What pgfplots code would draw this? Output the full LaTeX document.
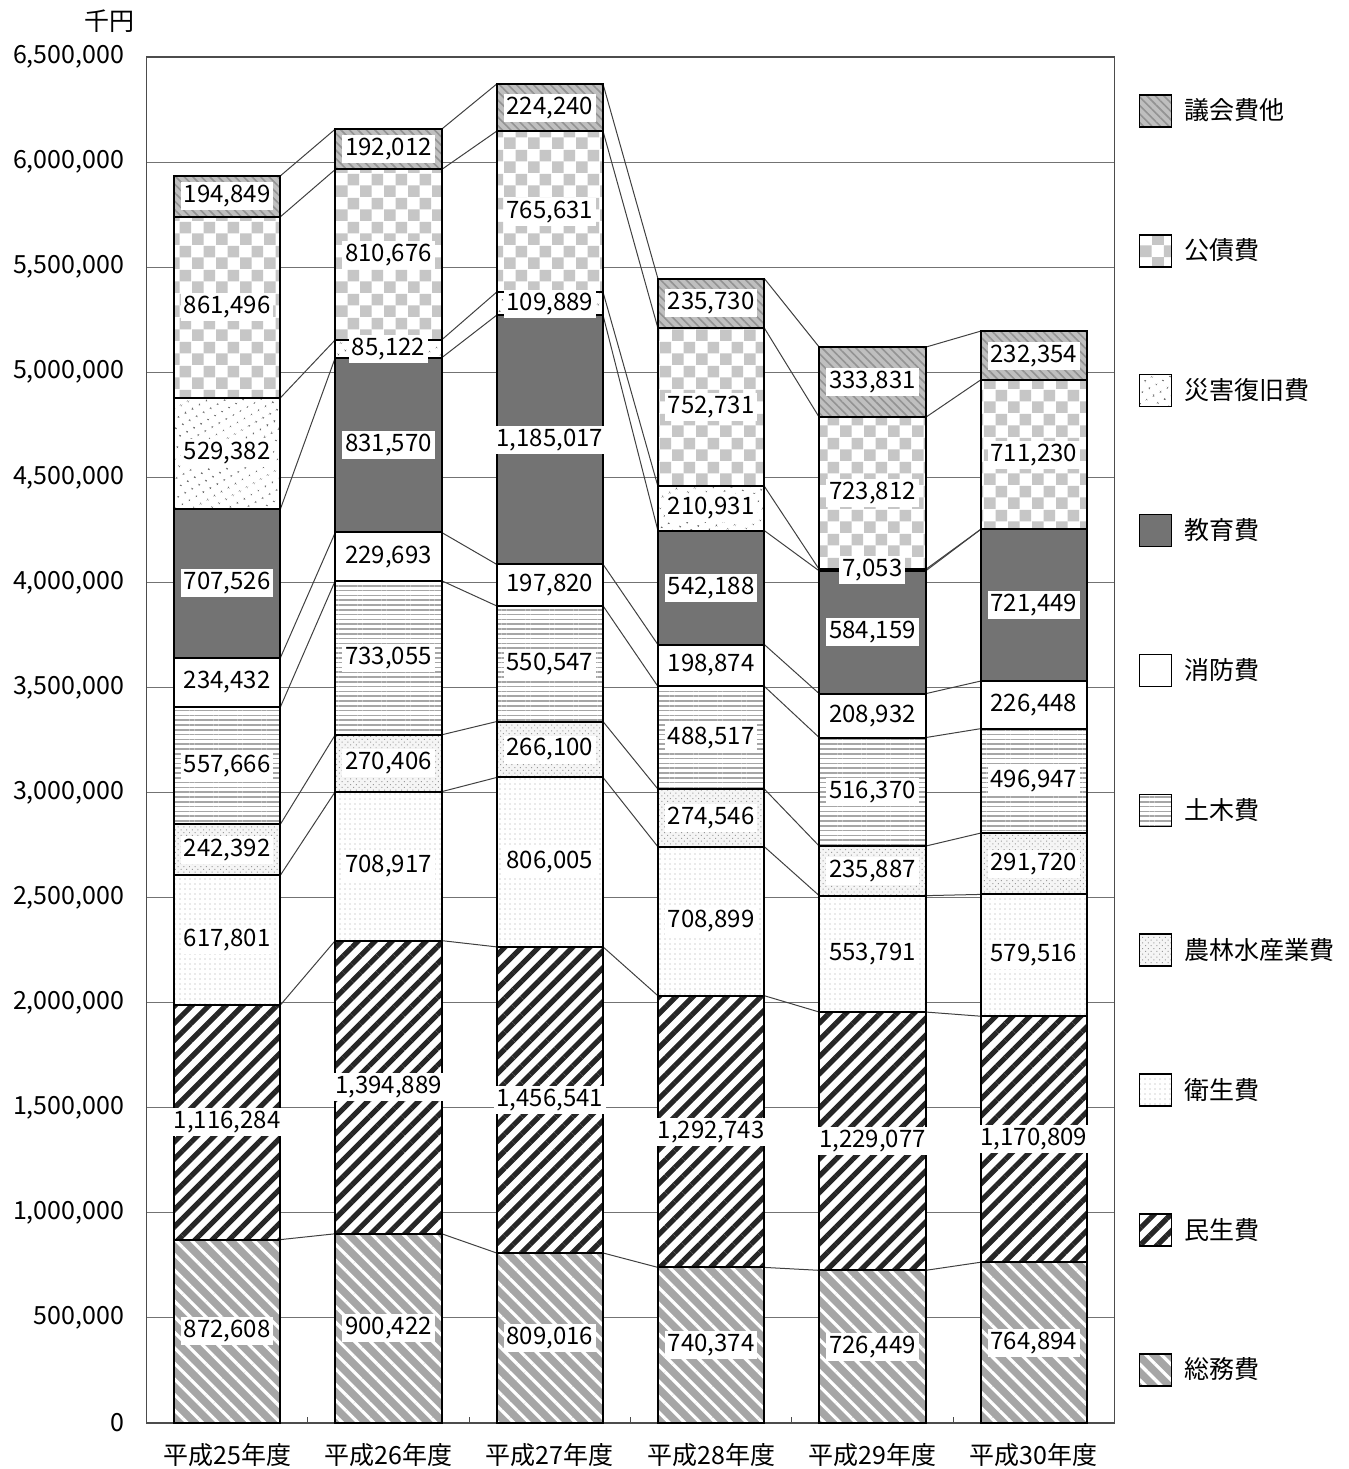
\documentclass[border=0pt]{standalone}
\usepackage{fontspec}
\setmainfont{Noto Sans CJK JP}
\usepackage{pgfplots}
\usepackage{pgfplotstable}
\pgfplotsset{compat=1.18}
\usetikzlibrary{patterns,patterns.meta}

\tikzdeclarepattern{
  name=bigcheck,
  type=uncolored,
  bounding box={(0pt,0pt) and (12pt,12pt)},
  tile size={(12pt,12pt)},
  code={
    \fill (0pt,0pt) rectangle (6pt,6pt);
    \fill (6pt,6pt) rectangle (12pt,12pt);
  }
}

% columns: a 総務費, b 民生費, c 衛生費, d 農林水産業費, e 土木費,
% f 消防費, g 教育費, h 災害復旧費, i 公債費, j 議会費他
\pgfplotstableread{
x a b c d e f g h i j
0 872608 1116284 617801 242392 557666 234432 707526 529382 861496 194849
1 900422 1394889 708917 270406 733055 229693 831570 85122 810676 192012
2 809016 1456541 806005 266100 550547 197820 1185017 109889 765631 224240
3 740374 1292743 708899 274546 488517 198874 542188 210931 752731 235730
4 726449 1229077 553791 235887 516370 208932 584159 7053 723812 333831
5 764894 1170809 579516 291720 496947 226448 721449 0 711230 232354
}\data

\tikzset{
  connector/.style={black!75, line width=0.5pt, mark=none},
  barbase/.style={draw=black, line width=1pt},
  s1/.style={barbase, fill=gray!70, postaction={pattern={Lines[angle=-45,distance=5.5pt,line width=1.6pt]}, pattern color=white}},
  s2/.style={barbase, fill=white, postaction={pattern={Lines[angle=45,distance=6pt,line width=2.6pt]}, pattern color=black!85}},
  s3/.style={barbase, fill=white, postaction={pattern={Dots[distance=2.5pt,radius=0.35pt]}, pattern color=gray!70}},
  s4/.style={barbase, fill=gray!8, postaction={pattern={Dots[distance=2pt,radius=0.35pt,angle=45]}, pattern color=gray!80}},
  s5/.style={barbase, fill=white, postaction={pattern={Lines[angle=0,distance=2.4pt,line width=0.8pt]}, pattern color=gray!70}},
  s6/.style={barbase, fill=white},
  s7/.style={barbase, fill=black!55},
  s8/.style={barbase, fill=white, postaction={pattern={Dots[distance=4pt,radius=0.5pt,angle=30]}, pattern color=black!60}},
  s9/.style={barbase, fill=white, postaction={pattern=bigcheck, pattern color=gray!45}},
  s10/.style={barbase, fill=gray!50, postaction={pattern={Lines[angle=-45,distance=3pt,line width=0.8pt]}, pattern color=gray!85}},
}

\newcommand\conn[1]{%
  \gdef\coordlist{}%
  \pgfplotsforeachungrouped \i in {0,...,5}{%
    \pgfplotstablegetelem{\i}{#1}\of\data
    \let\val\pgfplotsretval
    \pgfmathsetmacro\xl{\i-0.33}%
    \pgfmathsetmacro\xr{\i+0.33}%
    \xdef\coordlist{\coordlist (\xl,\val) (\xr,\val)}%
  }%
  \edef\doplot{\noexpand\addplot[connector] coordinates {\coordlist};}%
  \doplot
}

\begin{document}
\pgfkeys{/pgf/number format/.cd, fixed, precision=0, 1000 sep={,}, assume math mode=true}
\begin{tikzpicture}
\useasboundingbox (0,0) rectangle (672pt,734.5pt);
\begin{axis}[
  at={(71pt,23pt)}, anchor=south west,
  scale only axis, width=484pt, height=683pt,
  xmin=-0.5, xmax=5.5, ymin=0, ymax=6500000,
  stack plots=y,
  xtick={0,...,5},
  xticklabels={平成25年度,平成26年度,平成27年度,平成28年度,平成29年度,平成30年度},
  major tick length=0pt,
  tick pos=left,
  extra x ticks={0.5,1.5,2.5,3.5,4.5},
  extra x tick labels={},
  extra x tick style={major tick length=3pt, tick style={black!70, line width=0.6pt}},
  ytick distance=500000,
  scaled y ticks=false,
  ymajorgrids,
  y grid style={black!55, line width=0.5pt},
  axis line style={black!70, line width=0.6pt},
  tick label style={font=\fontsize{12.5}{14}\selectfont},
  yticklabel style={anchor=east, inner sep=0pt, xshift=-11pt},
  xticklabel style={anchor=north, inner sep=0pt, yshift=-10pt},
]
\conn{a}\conn{b}\conn{c}\conn{d}\conn{e}\conn{f}\conn{g}\conn{h}\conn{i}\conn{j}
\end{axis}
\begin{axis}[
  at={(71pt,23pt)}, anchor=south west,
  scale only axis, width=484pt, height=683pt,
  xmin=-0.5, xmax=5.5, ymin=0, ymax=6500000,
  hide axis,
  ybar stacked, bar width=0.66,
  nodes near coords,
  every node near coord/.append style={fill=white, inner sep=1.5pt, text=black, font=\fontsize{12}{13}\selectfont},
  legend style={at={(axis description cs:1.025,0.9729)}, anchor=north west, draw=none, fill=none, inner sep=0pt, outer sep=0pt, row sep=53.15pt, column sep=6pt, font=\fontsize{12.5}{14}\selectfont, nodes={inner sep=0pt}},
  legend cell align=left,
  reverse legend,
]
\pgfplotsset{every axis plot/.append style={legend image code/.code={\draw[#1, line width=0.8pt] (0pt,-8pt) rectangle (16pt,8pt);}}}
\addplot[s1] table[x=x,y=a]{\data}; \addlegendentry{総務費}
\addplot[s2] table[x=x,y=b]{\data}; \addlegendentry{民生費}
\addplot[s3] table[x=x,y=c]{\data}; \addlegendentry{衛生費}
\addplot[s4] table[x=x,y=d]{\data}; \addlegendentry{農林水産業費}
\addplot[s5] table[x=x,y=e]{\data}; \addlegendentry{土木費}
\addplot[s6] table[x=x,y=f]{\data}; \addlegendentry{消防費}
\addplot[s7] table[x=x,y=g]{\data}; \addlegendentry{教育費}
\addplot[s8] table[x=x,y=h]{\data}; \addlegendentry{災害復旧費}
\addplot[s9] table[x=x,y=i]{\data}; \addlegendentry{公債費}
\addplot[s10] table[x=x,y=j]{\data}; \addlegendentry{議会費他}
\end{axis}
\node[font=\fontsize{12.5}{14}\selectfont] at (52.5pt,724pt) {千円};
\end{tikzpicture}
\end{document}
